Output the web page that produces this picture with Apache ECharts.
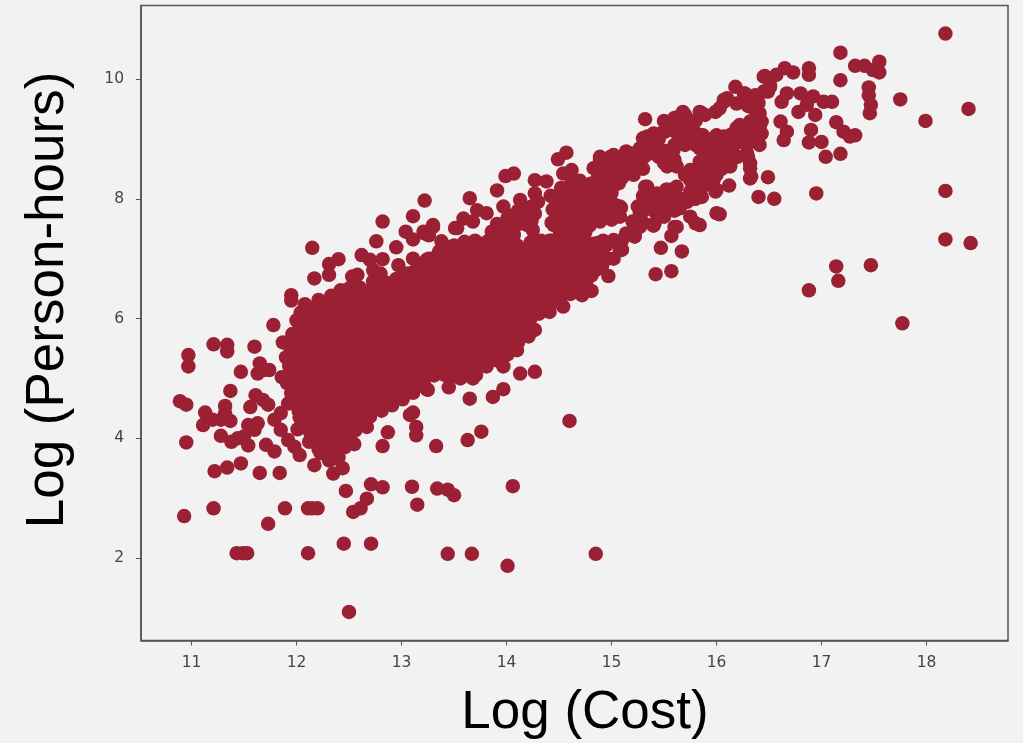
<!DOCTYPE html>
<html><head><meta charset="utf-8">
<style>html,body{margin:0;padding:0;background:#f2f2f2}#c{width:1023px;height:743px}</style>
<script src="https://cdn.jsdelivr.net/npm/echarts@6/dist/echarts.min.js"></script>
</head><body><div id="c"></div>
<script>
const xAxisTitle = "Log (Cost)";
const yAxisTitle = "Log (Person-hours)";
const xTicks = [11,12,13,14,15,16,17,18];
const yTicks = [2,4,6,8,10];

const lowLeftPoints = [
[12.50,1.10],[11.43,2.08],[11.49,2.08],[11.53,2.08],[12.11,2.08],[12.45,2.24],[12.71,2.24],[10.93,2.70],[11.21,2.83],[11.73,2.57],
[11.89,2.83],[12.11,2.83],[12.15,2.83],[12.20,2.83],[12.54,2.77],[12.61,2.83],[12.67,2.99],[12.71,3.23],[12.82,3.18],[13.10,3.19],
[13.15,2.89],[13.34,3.16],[12.47,3.12],[11.65,3.42],[11.84,3.42],[11.22,3.45],[11.34,3.51],[11.47,3.58],[10.95,3.93],[10.89,4.62],
[10.95,4.56],[10.97,5.39],[10.97,5.20],[11.21,5.57],[11.34,5.56],[11.34,5.45],[11.60,5.53],[11.78,5.89],[11.47,5.11],[11.63,5.08],
[11.69,5.14],[11.65,5.25],[11.74,5.14],[11.37,4.79],[11.61,4.72],[11.68,4.64],[11.73,4.56],[11.56,4.52],[11.32,4.54],[11.32,4.42],
[11.13,4.43],[11.20,4.31],[11.28,4.31],[11.37,4.29],[11.11,4.22],[11.63,4.25],[11.54,4.22],[11.60,4.14],[11.28,4.04],[11.38,3.94],
[11.44,4.00],[11.54,3.88],[11.50,4.03],[11.71,3.89],[11.79,3.78],[11.85,4.14],[11.92,3.97],[11.98,3.86],[11.79,4.31],[11.85,4.42],
[12.03,3.72],[12.17,3.55],[12.23,3.75],[12.38,3.66],[12.44,3.50],[12.35,3.41],[12.42,3.86],[12.55,3.90],[12.67,4.19],[12.87,4.10],
[12.82,3.87],[13.33,3.87],[13.14,4.05],[13.14,4.19],[13.08,4.39],[13.11,4.43],[13.25,4.81]
];
const lowerMiddlePoints = [
[13.24,4.82],[13.45,4.85],[13.65,4.66],[13.87,4.69],[13.97,4.82],[14.60,4.29],[13.76,4.11],[13.63,3.97],[14.06,3.20],[14.85,2.07],
[14.01,1.87],[13.67,2.07],[13.44,2.07],[13.44,3.14],[13.50,3.05],[13.56,5.00],[13.68,5.00],[13.97,5.20],[14.13,5.08],[14.27,5.11],
[14.10,5.47],[14.21,5.70],[14.27,5.81],[14.41,6.11],[14.54,6.20],[14.72,6.39],[14.81,6.46],[14.97,6.71],[15.02,7.00],[15.08,7.14]
];
const upperEdgePoints = [
[13.22,7.97],[13.30,7.53],[13.22,7.42],[13.51,7.51],[13.65,8.01],[13.59,7.67],[13.72,7.81],[13.81,7.76],[13.91,8.14],[13.99,8.38],
[14.07,8.42],[13.97,7.87],[14.13,7.98],[14.27,8.09],[14.27,8.31],[14.38,8.29],[14.49,8.66],[14.57,8.77],[14.54,8.42],[14.62,8.48],
[14.67,8.15],[14.76,8.03],[14.83,8.51],[14.89,8.70],[15.02,8.73],[15.14,8.79],[15.27,8.84],[15.34,9.04],[15.51,9.12],[13.11,7.71],
[12.82,7.62],[13.04,7.45],[13.11,7.32],[13.21,7.45],[13.30,7.56],[13.26,7.39],[13.53,7.51],[13.68,7.62],[13.38,7.29],[12.76,7.29],
[12.95,7.19],[12.62,7.06],[12.70,6.98],[12.82,6.99],[12.97,6.89],[12.40,6.99],[12.31,6.91],[12.31,6.73],[12.17,6.67],[12.15,7.18],
[12.53,6.70],[12.58,6.73],[12.73,6.81],[12.80,6.75],[12.73,6.62],[13.11,7.00],[13.24,6.98],[13.34,6.92],[11.95,6.39],[11.95,6.30],
[12.08,6.24],[11.87,5.60],[11.90,5.35],[11.86,5.02]
];
const coreLeftPoints = [
[11.92,4.58],[11.91,4.92],[11.93,5.21],[11.94,5.52],[11.96,5.74],
[12.01,4.15],[12.02,4.46],[12.00,4.77],[12.03,5.06],[12.01,5.38],[12.02,5.66],[12.00,5.97],[12.04,6.10],
[12.12,3.94],[12.10,4.21],[12.11,4.53],[12.13,4.81],[12.09,5.12],[12.12,5.43],[12.10,5.71],[12.13,5.96],[12.11,6.18],
[12.21,3.82],[12.20,4.08],[12.22,4.37],[12.19,4.66],[12.21,4.95],[12.23,5.24],[12.20,5.53],[12.22,5.82],[12.19,6.07],[12.21,6.31],
[12.31,3.63],[12.30,3.92],[12.32,4.22],[12.29,4.51],[12.31,4.80],[12.33,5.09],[12.30,5.38],[12.32,5.67],[12.29,5.95],[12.31,6.22],[12.33,6.38],
[12.40,3.68],[12.41,3.98],[12.39,4.28],[12.42,4.57],[12.40,4.86],[12.38,5.15],[12.41,5.44],[12.43,5.73],[12.40,6.02],[12.38,6.28],[12.42,6.47],
[12.51,3.98],[12.50,4.30],[12.52,4.60],[12.49,4.90],[12.51,5.20],[12.53,5.49],[12.50,5.78],[12.48,6.07],[12.52,6.33],[12.50,6.50],
[12.60,4.28],[12.61,4.58],[12.59,4.86],[12.62,5.15],[12.60,5.44],[12.58,5.73],[12.61,6.02],[12.63,6.30],[12.60,6.52],
[12.70,4.36],[12.71,4.65],[12.69,4.94],[12.72,5.23],[12.70,5.52],[12.68,5.81],[12.71,6.10],[12.73,6.37],
[12.81,4.46],[12.80,4.74],[12.82,5.03],[12.79,5.32],[12.81,5.61],[12.83,5.90],[12.80,6.19],[12.78,6.44],[12.82,6.60],
[12.91,4.55],[12.90,4.84],[12.92,5.13],[12.89,5.42],[12.91,5.71],[12.93,6.00],[12.90,6.29],[12.88,6.55],
[13.01,4.65],[13.00,4.95],[13.02,5.24],[12.99,5.53],[13.01,5.82],[13.03,6.11],[13.00,6.40],[13.02,6.68],
[13.11,4.76],[13.10,5.05],[13.12,5.34],[13.09,5.63],[13.11,5.92],[13.13,6.21],[13.10,6.50],[13.12,6.78]
];
const coreRightPoints = [
[13.21,4.93],[13.20,5.20],[13.22,5.49],[13.19,5.78],[13.21,6.07],[13.23,6.36],[13.20,6.65],[13.22,6.88],
[13.31,5.05],[13.30,5.32],[13.32,5.60],[13.29,5.89],[13.31,6.18],[13.33,6.47],[13.30,6.76],[13.32,7.02],
[13.41,5.06],[13.40,5.35],[13.42,5.64],[13.39,5.93],[13.41,6.22],[13.43,6.51],[13.40,6.80],[13.42,7.10],
[13.51,5.04],[13.50,5.33],[13.52,5.62],[13.49,5.91],[13.51,6.20],[13.53,6.49],[13.50,6.78],[13.52,7.07],[13.50,7.22],
[13.61,5.05],[13.60,5.34],[13.62,5.63],[13.59,5.92],[13.61,6.21],[13.63,6.50],[13.60,6.79],[13.62,7.08],[13.60,7.28],
[13.71,5.06],[13.70,5.35],[13.72,5.64],[13.69,5.93],[13.71,6.22],[13.73,6.51],[13.70,6.80],[13.72,7.09],[13.70,7.30],
[13.81,5.20],[13.80,5.48],[13.82,5.77],[13.79,6.06],[13.81,6.35],[13.83,6.64],[13.80,6.93],[13.82,7.20],[13.86,7.45],
[13.91,5.30],[13.90,5.58],[13.92,5.87],[13.89,6.16],[13.91,6.45],[13.93,6.74],[13.90,7.03],[13.92,7.32],[13.91,7.58],
[14.01,5.40],[14.00,5.68],[14.02,5.97],[13.99,6.26],[14.01,6.55],[14.03,6.84],[14.00,7.13],[14.02,7.42],[14.01,7.68],
[14.11,5.60],[14.10,5.87],[14.12,6.16],[14.09,6.45],[14.11,6.74],[14.13,7.03],[14.10,7.22],[14.12,7.58],[14.11,7.80],
[14.21,5.86],[14.20,6.12],[14.22,6.40],[14.19,6.69],[14.21,6.98],[14.23,7.27],[14.20,7.56],[14.22,7.85],
[14.31,6.08],[14.30,6.35],[14.32,6.62],[14.29,6.90],[14.31,7.19],[14.25,7.48],[14.27,7.75],[14.30,7.95],
[14.41,6.20],[14.40,6.48],[14.42,6.77],[14.39,7.06],[14.41,7.30],[14.45,7.56],[14.44,7.82],[14.42,8.05],
[14.51,6.32],[14.50,6.60],[14.52,6.88],[14.49,7.16],[14.51,7.44],[14.53,7.72],[14.50,7.98],[14.52,8.18],
[14.61,6.41],[14.60,6.68],[14.62,6.96],[14.59,7.24],[14.61,7.52],[14.63,7.80],[14.60,8.06],[14.62,8.28],
[14.71,6.45],[14.70,6.75],[14.72,7.04],[14.69,7.32],[14.71,7.58],[14.73,7.86],[14.70,8.30],
[14.81,6.72],[14.80,6.98],[14.82,7.22],[14.79,7.55],[14.81,7.80],[14.83,8.02],[14.80,8.25],
[14.91,6.88],[14.90,7.12],[14.92,7.30],[14.89,7.62],[14.91,7.90],[14.93,8.14],[14.90,8.40]
];
const coreFillPoints = [
[11.95,4.75],[11.96,5.06],[11.97,5.36],
[12.06,4.30],[12.05,4.61],[12.07,4.91],[12.06,5.22],[12.05,5.52],[12.07,5.82],[12.06,6.03],
[12.16,4.01],[12.15,4.36],[12.17,4.67],[12.16,4.97],[12.15,5.28],[12.17,5.58],[12.16,5.85],[12.15,6.12],
[12.26,3.75],[12.25,4.15],[12.27,4.37],[12.26,4.66],[12.25,5.10],[12.27,5.38],[12.26,5.68],[12.25,5.95],[12.27,6.15],
[12.36,3.80],[12.35,4.07],[12.37,4.36],[12.35,4.72],[12.36,5.00],[12.35,5.30],[12.37,5.60],[12.36,5.88],[12.35,6.15],[12.37,6.33],
[12.46,3.85],[12.45,4.14],[12.47,4.44],[12.45,4.74],[12.46,5.03],[12.45,5.32],[12.47,5.62],[12.46,5.90],[12.45,6.20],[12.46,6.40],
[12.56,4.13],[12.55,4.44],[12.57,4.74],[12.55,5.03],[12.56,5.32],[12.55,5.60],[12.57,5.90],[12.56,6.18],[12.55,6.43],
[12.66,4.42],[12.65,4.72],[12.67,5.01],[12.65,5.30],[12.66,5.60],[12.65,5.92],[12.67,6.20],[12.66,6.45],
[12.76,4.50],[12.75,4.80],[12.77,5.09],[12.75,5.38],[12.76,5.68],[12.75,5.98],[12.77,6.27],[12.74,6.52],
[12.86,4.60],[12.85,4.90],[12.87,5.19],[12.85,5.48],[12.86,5.78],[12.85,6.08],[12.87,6.37],[12.85,6.60],
[12.96,4.70],[12.95,5.00],[12.97,5.29],[12.95,5.58],[12.96,5.88],[12.95,6.18],[12.97,6.47],[12.95,6.66],
[13.06,4.80],[13.05,5.10],[13.07,5.39],[13.05,5.68],[13.06,5.98],[13.05,6.28],[13.07,6.57],[13.06,6.75],
[13.16,4.88],[13.15,5.18],[13.17,5.47],[13.15,5.76],[13.16,6.06],[13.15,6.36],[13.17,6.65],[13.16,6.85],
[13.26,5.06],[13.25,5.34],[13.27,5.63],[13.25,5.92],[13.26,6.22],[13.25,6.52],[13.27,6.80],[13.26,7.00],
[13.36,5.18],[13.35,5.47],[13.37,5.76],[13.35,6.05],[13.36,6.35],[13.35,6.65],[13.37,6.93],[13.36,7.12],
[13.46,5.20],[13.45,5.49],[13.47,5.78],[13.45,6.07],[13.46,6.37],[13.45,6.67],[13.47,6.95],[13.46,7.18],
[13.56,5.18],[13.55,5.47],[13.57,5.76],[13.55,6.05],[13.56,6.35],[13.55,6.65],[13.57,6.93],[13.56,7.18],
[13.66,5.20],[13.65,5.49],[13.67,5.78],[13.65,6.07],[13.66,6.37],[13.65,6.67],[13.67,6.95],[13.66,7.20],
[13.76,5.25],[13.75,5.52],[13.77,5.80],[13.75,6.09],[13.76,6.39],[13.75,6.69],[13.77,6.97],[13.76,7.25],
[13.86,5.40],[13.85,5.68],[13.87,5.96],[13.85,6.25],[13.86,6.55],[13.85,6.85],[13.87,7.13],[13.88,7.30],
[13.96,5.52],[13.95,5.80],[13.97,6.08],[13.95,6.37],[13.96,6.67],[13.95,6.97],[13.97,7.25],[13.96,7.55],
[14.06,5.70],[14.05,5.98],[14.07,6.26],[14.05,6.55],[14.06,6.85],[14.05,7.15],[14.07,7.40],[14.06,7.72],
[14.16,6.00],[14.15,6.27],[14.17,6.55],[14.15,6.84],[14.16,7.12],[14.15,7.60],[14.17,7.78],
[14.26,6.22],[14.25,6.49],[14.27,6.76],[14.25,7.05],[14.26,7.33],[14.24,7.65],[14.25,7.88],
[14.36,6.32],[14.35,6.60],[14.37,6.88],[14.35,7.18],[14.46,6.40],[14.45,6.72],[14.47,7.00],[14.45,7.30],[14.47,7.68],[14.47,7.95],
[14.56,6.50],[14.55,6.80],[14.57,7.08],[14.55,7.38],[14.57,7.66],[14.56,7.94],[14.57,8.15],
[14.66,6.56],[14.65,6.86],[14.67,7.16],[14.65,7.44],[14.67,7.70],[14.66,7.96],[14.65,8.20],
[14.76,6.62],[14.75,6.88],[14.77,7.14],[14.75,7.44],[14.76,7.72],[14.75,7.95],[14.76,8.16],
[14.86,6.82],[14.85,7.06],[14.87,7.26],[14.85,7.70],[14.86,7.95],[14.85,8.20],[14.87,8.35],
[14.96,7.00],[14.95,7.22],[14.97,7.75],[14.96,8.02],[14.95,8.28],[14.97,8.50]
];
const denseColumnCosts = [12.03,12.13,12.23,12.33,12.43,12.53,12.63,12.73,12.83,12.93,13.03,13.13,13.23,13.33,13.43,13.53,13.63,13.73,13.83,13.93,14.03,14.13,14.23,14.33,14.43,14.53,14.63,14.73,14.83];
const denseColumnHours = [
[4.35,4.55,4.74,4.93,5.12,5.31,5.50,5.69,5.88,6.00],
[4.10,4.29,4.48,4.67,4.86,5.05,5.24,5.43,5.62,5.81,6.05],
[3.95,4.14,4.33,4.52,4.71,4.90,5.09,5.28,5.47,5.66,5.85,6.15],
[3.80,3.99,4.18,4.37,4.56,4.75,4.94,5.13,5.32,5.51,5.70,5.89,6.08,6.20],
[4.00,4.19,4.38,4.57,4.76,4.95,5.14,5.33,5.52,5.71,5.90,6.09,6.35],
[4.15,4.34,4.53,4.72,4.91,5.10,5.29,5.48,5.67,5.86,6.05,6.24,6.40],
[4.40,4.59,4.78,4.97,5.16,5.35,5.54,5.73,5.92,6.11,6.30,6.40],
[4.50,4.69,4.88,5.07,5.26,5.45,5.64,5.83,6.02,6.21,6.45],
[4.60,4.79,4.98,5.17,5.36,5.55,5.74,5.93,6.12,6.31,6.50],
[4.70,4.89,5.08,5.27,5.46,5.65,5.84,6.03,6.22,6.41,6.55],
[4.80,4.99,5.18,5.37,5.56,5.75,5.94,6.13,6.32,6.51,6.60],
[4.90,5.09,5.28,5.47,5.66,5.85,6.04,6.23,6.42,6.61,6.70],
[5.05,5.24,5.43,5.62,5.81,6.00,6.19,6.38,6.57,6.80],
[5.20,5.39,5.58,5.77,5.96,6.15,6.34,6.53,6.72,6.90],
[5.20,5.39,5.58,5.77,5.96,6.15,6.34,6.53,6.72,6.91,7.00],
[5.15,5.34,5.53,5.72,5.91,6.10,6.29,6.48,6.67,6.86,7.10],
[5.15,5.34,5.53,5.72,5.91,6.10,6.29,6.48,6.67,6.86,7.15],
[5.20,5.39,5.58,5.77,5.96,6.15,6.34,6.53,6.72,6.91,7.15],
[5.35,5.54,5.73,5.92,6.11,6.30,6.49,6.68,6.87,7.06,7.30],
[5.45,5.64,5.83,6.02,6.21,6.40,6.59,6.78,6.97,7.16,7.40],
[5.55,5.74,5.93,6.12,6.31,6.50,6.69,6.88,7.07,7.26,7.50],
[5.75,5.94,6.13,6.32,6.51,6.70,6.89,7.10],
[6.00,6.19,6.38,6.57,6.76,6.95,7.14,7.60],
[6.20,6.39,6.58,6.77,6.96,7.15,7.30],
[6.35,6.54,6.73,6.92,7.11,7.30,7.60],
[6.45,6.64,6.83,7.02,7.21,7.40,7.59,7.90],
[6.55,6.74,6.93,7.12,7.31,7.50,7.69,8.00],
[6.60,6.79,6.98,7.17,7.36,7.55,7.74,8.00],
[6.85,7.04,7.25,7.70,7.89,8.10]
];
const upperBandPoints = [
[15.00,7.65],[15.03,7.90],[15.00,8.10],[15.02,8.40],[15.00,8.60],[15.10,7.15],[15.08,7.70],[15.09,7.85],[15.10,8.35],[15.10,8.55],
[15.12,8.70],[15.20,7.45],[15.20,7.62],[15.21,8.40],[15.20,8.60],[15.20,8.75],[15.30,7.60],[15.28,7.75],[15.30,8.05],[15.32,8.20],
[15.30,8.50],[15.31,8.70],[15.30,8.90],[15.40,7.55],[15.40,7.80],[15.42,8.00],[15.38,8.85],[15.50,7.87],
[15.50,8.00],[15.52,8.15],[15.50,8.60],[15.50,8.80],[15.48,9.10],[15.50,9.30],[15.60,7.95],[15.60,8.10],[15.60,8.65],[15.60,8.90],
[15.62,9.10],[15.60,9.35],[15.70,8.40],[15.70,8.90],[15.70,9.20],[15.70,9.40],[15.80,8.00],[15.78,8.30],[15.80,8.45],
[15.80,8.90],[15.80,9.10],[15.80,9.30],[15.25,7.87],[15.46,7.87],[15.56,8.15],[15.80,7.59],[16.00,7.76],[15.62,7.53],
[15.57,7.38],[15.47,7.18],[15.67,7.12],[15.42,6.74],[15.57,6.79],[15.22,7.37],[15.32,9.33],
[15.05,8.25],[15.15,8.48],[15.25,8.62],[15.45,8.70],[15.55,8.80],[15.65,9.00],[15.75,9.05],[15.35,8.75],[15.45,9.00],
[15.55,9.22],[15.65,9.28],[15.75,9.30],[15.45,7.95],[15.35,7.92],[15.65,8.00],[15.72,7.95],[15.75,8.12],[15.60,7.80],[15.50,7.70],
[15.51,9.15],[15.40,9.09],[15.30,9.01],[15.68,9.45],[15.64,9.37],[15.86,9.43],[15.99,9.45],[16.07,9.62],[15.72,9.20],[15.87,9.06],
[16.00,9.06],[16.13,9.06],[16.26,9.76],[16.19,9.59],[16.32,9.54],[16.41,9.43],[16.41,9.20],[16.38,8.98],[16.29,9.20],[16.19,9.18],
[15.72,8.98],[15.59,8.81],[15.49,8.65],[15.84,8.92],[15.97,8.87],[16.13,8.87],[16.22,8.95],[16.32,9.01],[16.13,8.65],[16.13,8.54],
[16.00,8.70],[16.29,8.76],[16.32,8.59],[16.33,8.37],[15.87,8.42],[15.97,8.31],[16.00,8.15],[15.81,8.09],[15.75,8.31],[15.62,8.20],
[15.65,7.98],[15.65,7.84],[15.53,8.15],[15.43,8.09],[15.34,8.20],[15.27,8.59],[15.21,8.54],[15.11,8.70],[14.99,8.70],[14.89,8.65],
[14.86,8.48],[15.02,8.48],[15.53,8.54],[15.62,8.54],[15.75,8.48],[15.07,8.26],[14.99,8.26],[14.95,8.15],[15.08,7.87],[14.99,7.76],
[14.89,7.81],[14.83,7.92],[15.26,7.87],[15.27,7.76],[15.41,7.59],[15.43,7.87],[15.37,8.00],[15.14,7.42],[15.22,7.37],[15.27,7.53],
[15.10,7.31],[15.02,7.31],[14.95,7.25],[15.60,7.53],[15.75,7.70]
];
const upperRightPoints = [
[18.18,10.76],[17.18,10.44],[17.18,9.98],[17.32,10.22],[17.41,10.22],[17.49,10.15],[17.55,10.29],[17.55,10.11],[17.45,9.86],[17.45,9.73],
[17.47,9.57],[17.46,9.43],[17.75,9.66],[17.99,9.30],[18.40,9.50],[18.18,8.13],[18.18,7.32],[18.42,7.26],[17.47,6.89],[17.14,6.87],
[17.16,6.63],[16.88,6.47],[17.77,5.92],[16.95,8.09],[16.40,8.03],[16.55,8.00],[16.49,8.36],[16.12,8.22],[16.03,7.74],[16.88,10.18],
[16.88,10.07],[16.65,10.18],[16.73,10.11],[16.57,10.07],[16.46,10.05],[16.51,9.90],[16.18,9.87],[16.27,9.76],[16.37,9.73],[16.49,9.79],
[16.07,9.65],[16.03,9.51],[16.67,9.76],[16.80,9.76],[16.62,9.62],[16.92,9.71],[17.02,9.62],[17.10,9.62],[16.78,9.45],[16.94,9.40],
[16.86,9.57],[17.14,9.28],[17.21,9.12],[17.32,9.06],[17.27,9.04],[16.61,9.29],[16.67,9.12],[16.64,8.98],[16.90,9.15],[16.88,8.94],
[17.00,8.95],[17.04,8.70],[17.18,8.75],[16.41,8.90],[16.43,9.09],[16.43,9.29],[16.38,9.45],[16.32,8.34],[16.32,8.51],[16.30,8.70],
[16.29,8.90],[16.13,8.56],[16.05,8.70],[15.99,8.73],[15.84,9.45],[15.89,9.40],[16.22,9.23],[16.32,9.29],[16.16,9.09],[16.07,9.04],
[16.32,9.04],[16.22,8.95],[15.94,8.95],[16.03,8.84],[16.15,8.79],[15.97,8.31],[15.99,8.12],[15.86,8.03],[15.91,8.40],[15.84,7.56],
[15.84,9.06],[15.84,8.84],[15.84,8.62],[15.88,8.40],[15.95,9.00],[15.90,8.70],
[16.30,9.55],[16.10,9.68],[16.25,9.62],[16.00,9.05],[16.10,8.90],[16.20,8.70],[16.25,9.10],[16.35,9.15],
[16.40,9.60],[16.05,8.50],[15.95,8.55],[16.00,8.40],[15.88,8.22],[16.45,9.79],[16.51,9.87],[16.45,10.04]
];

const densePoints = [];
denseColumnCosts.forEach((c, i) => denseColumnHours[i].forEach(h => densePoints.push([c, h])));
const allPoints = [].concat(lowLeftPoints, lowerMiddlePoints, upperEdgePoints, coreLeftPoints, coreRightPoints, coreFillPoints, densePoints, upperBandPoints, upperRightPoints);

const chart = echarts.init(document.getElementById('c'), null, {renderer:'canvas'});
const axisLine = {show:true, lineStyle:{color:'#555', width:1.5}};
chart.setOption({
  animation:false,
  backgroundColor:'#f2f2f2',
  grid:{left:141, top:5.5, right:15, bottom:102.5, show:true, borderColor:'#555', borderWidth:1.5, backgroundColor:'transparent', outerBoundsMode:'none', containLabel:false},
  xAxis:{type:'value', min:10.519, max:18.776,
    name:xAxisTitle, nameLocation:'middle', nameGap:46,
    nameTextStyle:{fontFamily:'Liberation Sans', fontSize:53, color:'#000', padding:[0,0,0,21]},
    axisLine, splitLine:{show:false},
    axisTick:{show:true, length:5, customValues:xTicks, lineStyle:{color:'#555'}},
    axisLabel:{customValues:xTicks, fontFamily:'DejaVu Sans', fontSize:15.5, color:'#444', margin:14}},
  yAxis:{type:'value', min:0.622, max:11.228,
    name:yAxisTitle, nameLocation:'middle', nameGap:66,
    nameTextStyle:{fontFamily:'Liberation Sans', fontSize:53, color:'#000', padding:[0,0,0,46]},
    axisLine, splitLine:{show:false},
    axisTick:{show:true, length:5, customValues:yTicks, lineStyle:{color:'#555'}},
    axisLabel:{customValues:yTicks, fontFamily:'DejaVu Sans', fontSize:15.5, color:'#444', margin:17}},
  series:[{type:'scatter', data:allPoints, symbolSize:14.5, silent:true, large:false,
    itemStyle:{color:'#9b2034', opacity:1, borderWidth:0, shadowBlur:0}}]
});
</script></body></html>
